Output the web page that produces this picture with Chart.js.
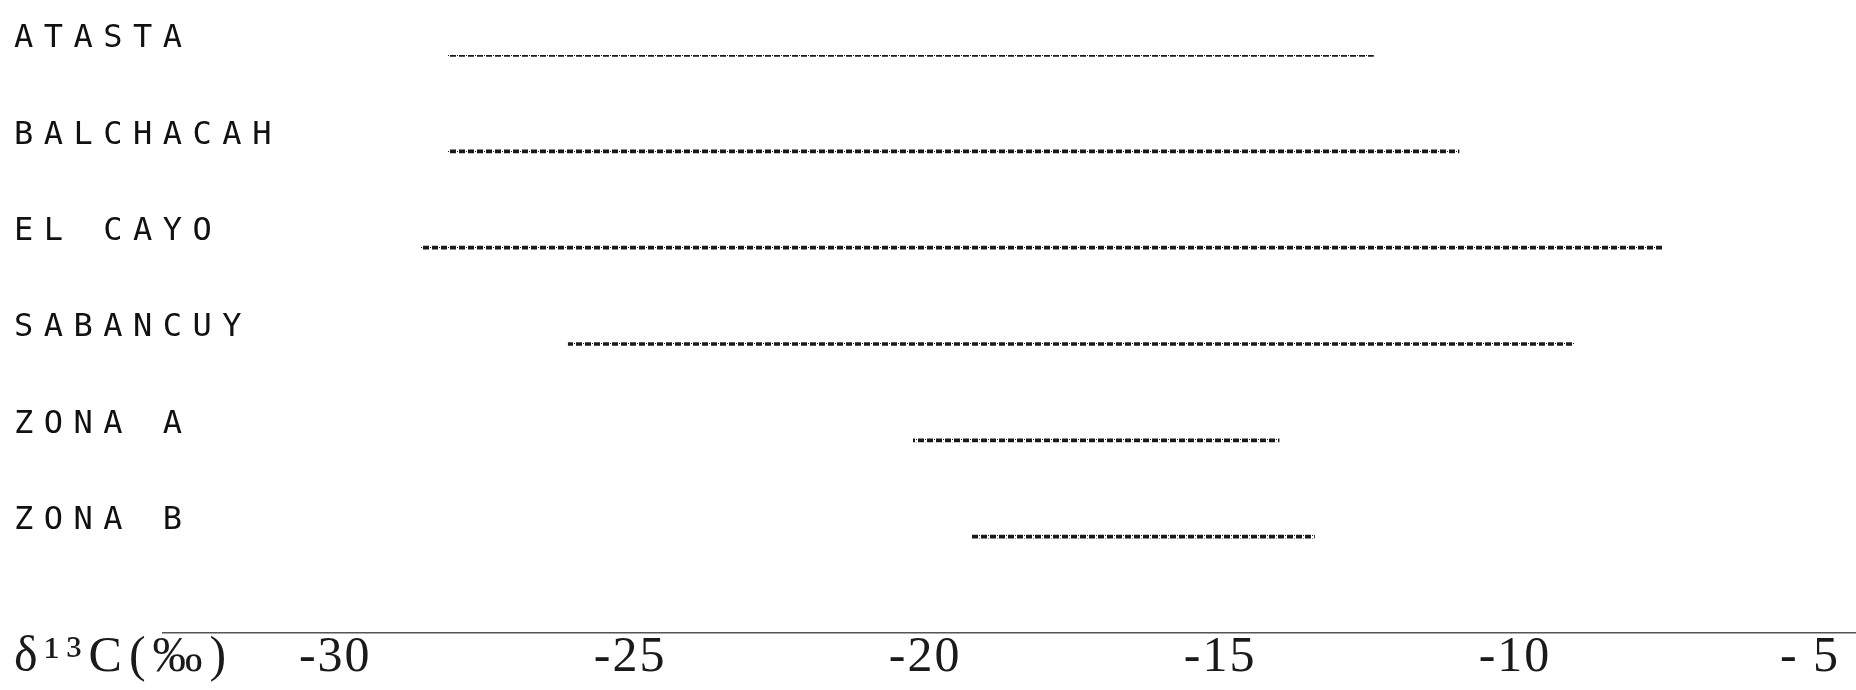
<!DOCTYPE html>
<html>
<head>
<meta charset="utf-8">
<title>δ13C por localidad</title>
<script src="https://cdn.jsdelivr.net/npm/chart.js@4.4.0/dist/chart.umd.min.js"></script>
<style>
html, body { margin: 0; padding: 0; background: #fff; }
#wrap { width: 1856px; height: 690px; position: relative; }
</style>
</head>
<body>
<div id="wrap"><canvas id="isoChart"></canvas></div>
<script>
// sites, top to bottom
var sites = ['ATASTA', 'BALCHACAH', 'EL CAYO', 'SABANCUY', 'ZONA A', 'ZONA B'];
// range of d13C for each site (per mil)
var rangeLow  = [-28.1, -28.1, -28.55, -26.05, -20.2, -19.2];
var rangeHigh = [-12.4, -10.95, -7.5, -9.0, -14.0, -13.4];
var tickValues = [-30, -25, -20, -15, -10, -5];
var tickLabels = ['-30', '-25', '-20', '-15', '-10', '- 5'];
var axisCaption = 'δ¹³C(‰)';

// dotted printer line
function printPattern() {
    var c = document.createElement('canvas');
    c.width = 9;
    c.height = 3;
    var g = c.getContext('2d');
    g.fillStyle = '#1a1a1a';
    g.fillRect(0, 0, 6, 3);
    g.fillRect(7, 1, 1, 1);
    return g.createPattern(c, 'repeat');
}

var ranges = sites.map(function (s, i) { return [rangeLow[i], rangeHigh[i]]; });

var printPlugin = {
    id: 'printSpacing',
    beforeDraw: function (chart) { chart.ctx.letterSpacing = '2px'; },
    afterDatasetsDraw: function (chart) { chart.ctx.letterSpacing = '10.5px'; },
    afterDraw: function (chart) {
        var ctx = chart.ctx;
        var xs = chart.scales.x;
        ctx.save();
        ctx.letterSpacing = '7px';
        ctx.font = '50px "Liberation Serif"';
        ctx.fillStyle = '#1a1a1a';
        ctx.textAlign = 'left';
        ctx.textBaseline = 'middle';
        ctx.fillText(axisCaption, chart.options.layout.padding.left, xs.top + 25);
        ctx.restore();
        ctx.letterSpacing = '0px';
    }
};

var isoChart = new Chart(document.getElementById('isoChart'), {
    type: 'bar',
    data: {
        labels: sites.concat(['']),
        datasets: [{
            label: axisCaption,
            data: ranges,
            backgroundColor: printPattern(),
            borderWidth: 0,
            barThickness: 3
        }]
    },
    options: {
        indexAxis: 'y',
        responsive: true,
        maintainAspectRatio: false,
        animation: false,
        layout: {
            padding: { left: 14, top: 55, right: 0, bottom: 0 }
        },
        scales: {
            x: {
                type: 'linear',
                min: -32.92,
                max: -4.22,
                afterBuildTicks: function (scale) {
                    scale.ticks = tickValues.map(function (v) { return { value: v }; });
                },
                afterFit: function (scale) { scale.height = 57; },
                grid: { display: false, drawTicks: false },
                border: { display: true, color: '#555', width: 1.5, dash: [4, 3] },
                ticks: {
                    autoSkip: false,
                    maxRotation: 0,
                    padding: 0,
                    color: '#1a1a1a',
                    font: { family: '"Liberation Serif", serif', size: 50, lineHeight: 1 },
                    callback: function (value) {
                        var i = tickValues.indexOf(value);
                        return i < 0 ? '' : tickLabels[i];
                    }
                }
            },
            y: {
                offset: false,
                afterFit: function (scale) { scale.width = 149; },
                grid: { display: false, drawTicks: false },
                border: { display: false },
                ticks: {
                    z: 1,
                    autoSkip: false,
                    mirror: true,
                    crossAlign: 'near',
                    padding: -149,
                    labelOffset: -16,
                    color: '#111',
                    font: { family: '"DejaVu Sans Mono", monospace', size: 32 }
                }
            }
        },
        plugins: {
            legend: { display: false },
            tooltip: { enabled: false }
        }
    },
    plugins: [printPlugin]
});
</script>
</body>
</html>
